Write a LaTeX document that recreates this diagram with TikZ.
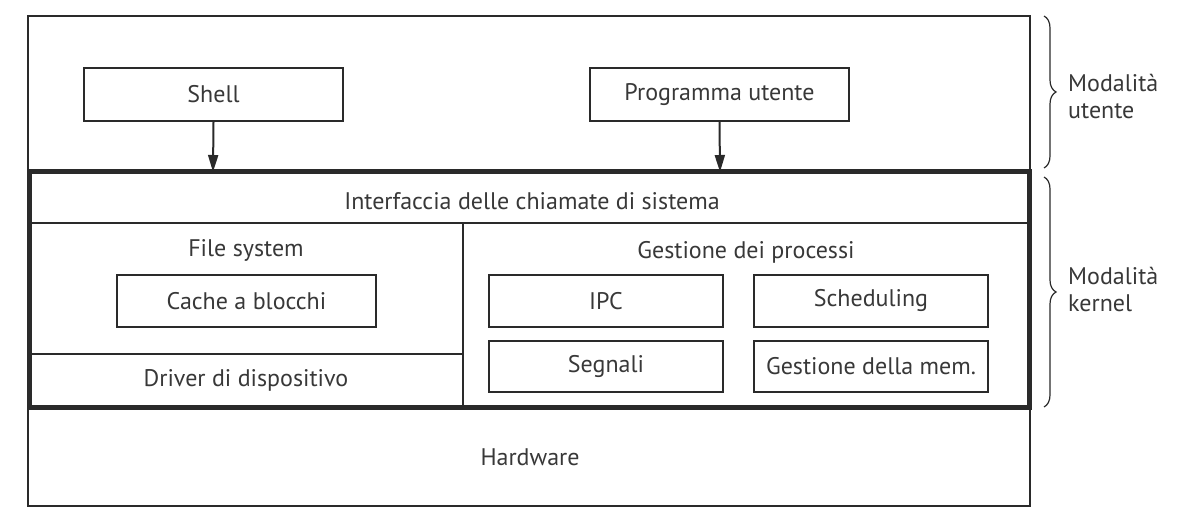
\documentclass[tikz,border=0pt]{standalone}
\usepackage{fontspec}
\setmainfont{PT Sans}
\usetikzlibrary{arrows.meta,decorations.pathreplacing}
\definecolor{ink}{HTML}{2A2A2A}
\definecolor{txt}{HTML}{383838}
\tikzset{
  thin line/.style={draw=ink, line width=2pt},
  box/.style={thin line, rectangle, inner sep=0pt, text=txt},
  lbl/.style={text=txt, inner sep=0pt, anchor=center},
  callarrow/.style={thin line, -{Triangle[length=17pt,width=10pt]}},
  modebrace/.style={draw=ink, line width=1.2pt, decorate, decoration={brace, amplitude=12pt}},
}
\begin{document}
\begin{tikzpicture}[x=1pt,y=-1pt, font=\fontsize{24}{27}\selectfont]
\useasboundingbox (0,0) rectangle (1191,518);
% outer frame
\draw[thin line] (28,16) rectangle (1030,506);
% user mode boxes
\node[box, minimum width=259, minimum height=53] (shell) at (213.5,94.5) {Shell};
\node[box, minimum width=259, minimum height=53] (prog) at (719.5,94.5) {Programma utente};
% kernel
\node[draw=ink, line width=5pt, rectangle, minimum width=1000, minimum height=235, inner sep=0pt] (kernel) at (529,289.5) {};
\coordinate (k1) at (213,172);
\coordinate (k2) at (720,172);
\draw[callarrow] (shell.south) -- (k1);
\draw[callarrow] (prog.south) -- (k2);
\draw[thin line] (29,223) -- (1029,223);
\draw[thin line] (463,223) -- (463,407);
\draw[thin line] (29,354) -- (463,354);
\node[lbl] (sci) at (532,201) {Interfaccia delle chiamate di sistema};
\node[lbl] (fs) at (246,250) {File system};
\node[box, minimum width=259, minimum height=52] (cache) at (246.5,301) {Cache a blocchi};
\node[lbl] (drv) at (246,380) {Driver di dispositivo};
\node[lbl] (gp) at (746,252) {Gestione dei processi};
\node[box, minimum width=234, minimum height=52] (ipc) at (606,301) {IPC};
\node[box, minimum width=234, minimum height=52] (sched) at (871,301) {Scheduling};
\node[box, minimum width=234, minimum height=51] (sig) at (606,366.5) {Segnali};
\node[box, minimum width=234, minimum height=51] (mem) at (871,366.5) {Gestione della mem.};
\node[lbl] (hw) at (530,457) {Hardware};
% braces
\coordinate (ub1) at (1044,16);
\coordinate (ub2) at (1044,168);
\coordinate (kb1) at (1044,177);
\coordinate (kb2) at (1044,407);
\draw[modebrace] (ub1) -- (ub2);
\draw[modebrace] (kb1) -- (kb2);
\node[lbl, anchor=west, align=left] (um) at (1068,96.5) {Modalità\\utente};
\node[lbl, anchor=west, align=left] (km) at (1068,289.5) {Modalità\\kernel};
\end{tikzpicture}
\end{document}
